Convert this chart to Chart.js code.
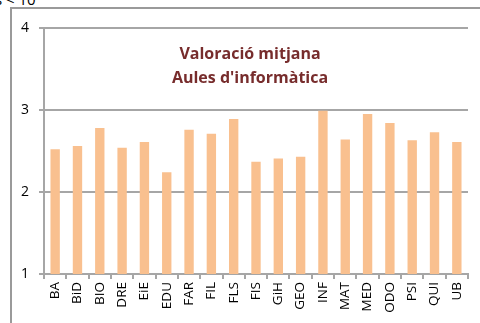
<!DOCTYPE html>
<html>
<head>
<meta charset="utf-8">
<script src="https://cdn.jsdelivr.net/npm/chart.js@4"></script>
<style>
  html, body { margin: 0; padding: 0; background: #fff; overflow: hidden; }
  #wrap { position: relative; width: 480px; height: 323px; overflow: hidden; }
  #frame { position: absolute; left: 10px; top: 7px; width: 500px; height: 330px; border: 2px solid #9a9a9a; box-sizing: border-box; }
  #cut { position: absolute; left: -36px; top: -11px; font: 15px "Open Sans", sans-serif; color: #000; white-space: nowrap; }
  canvas { position: absolute; left: 0; top: 0; }
</style>
</head>
<body>
<div id="wrap">
  <div id="frame"></div>
  <div id="cut">Aules &lt; 10</div>
  <canvas id="chart" width="480" height="323"></canvas>
</div>
<script>
// Faculties and the average rating of their computer rooms
const labels = ['BA', 'BiD', 'BIO', 'DRE', 'EiE', 'EDU', 'FAR', 'FIL', 'FLS', 'FIS',
                'GiH', 'GEO', 'INF', 'MAT', 'MED', 'ODO', 'PSI', 'QUI', 'UB'];
const valoracio = [2.52, 2.56, 2.78, 2.54, 2.61, 2.24, 2.76, 2.71, 2.89, 2.37,
                   2.41, 2.43, 2.99, 2.64, 2.95, 2.84, 2.63, 2.73, 2.61];
const yTicks = [1, 2, 3, 4];
const titol = ['Valoració mitjana', "Aules d'informàtica"];

// title drawn inside the plot area
const titlePlugin = {
    id: 'innerTitle',
    afterDraw(chart) {
        const c = chart.ctx;
        const area = chart.chartArea;
        c.save();
        c.fillStyle = '#772c2c';
        c.font = 'bold 16px "Open Sans", sans-serif';
        c.textAlign = 'center';
        c.textBaseline = 'middle';
        const cx = (area.left + area.right) / 2 - 6;
        c.fillText(titol[0], cx, area.top + 26);
        c.fillText(titol[1], cx, area.top + 50);
        c.restore();
    }
};

const ctx = document.getElementById('chart').getContext('2d');
const myChart = new Chart(ctx, {
    type: 'bar',
    data: {
        labels: labels,
        datasets: [{
            label: 'Valoració',
            data: valoracio,
            backgroundColor: '#f9c08f',
            borderWidth: 0,
            barPercentage: 0.42,
            categoryPercentage: 1
        }]
    },
    options: {
        responsive: false,
        animation: false,
        layout: { padding: { top: 28, right: 12, left: 0, bottom: 0 } },
        plugins: {
            legend: { display: false },
            title: { display: false },
            tooltip: { enabled: false }
        },
        scales: {
            y: {
                min: 1,
                max: 4,
                afterBuildTicks(scale) {
                    scale.ticks = yTicks.map(v => ({ value: v }));
                },
                afterFit(scale) { scale.width = 44; },
                grid: { color: '#a6a6a6', lineWidth: 2, tickLength: 5 },
                border: { color: '#a6a6a6', width: 2 },
                ticks: {
                    color: '#000',
                    font: { family: 'Open Sans', size: 14 },
                    padding: 10
                }
            },
            x: {
                offset: true,
                afterFit(scale) { scale.height = 49; },
                grid: { offset: true, drawOnChartArea: false, color: '#a6a6a6', lineWidth: 2, tickLength: 5 },
                border: { color: '#a6a6a6', width: 2 },
                ticks: {
                    color: '#000',
                    font: { family: 'Open Sans', size: 13.5 },
                    minRotation: 90,
                    maxRotation: 90,
                    autoSkip: false,
                    padding: 3
                }
            }
        }
    },
    plugins: [titlePlugin]
});
</script>
</body>
</html>
